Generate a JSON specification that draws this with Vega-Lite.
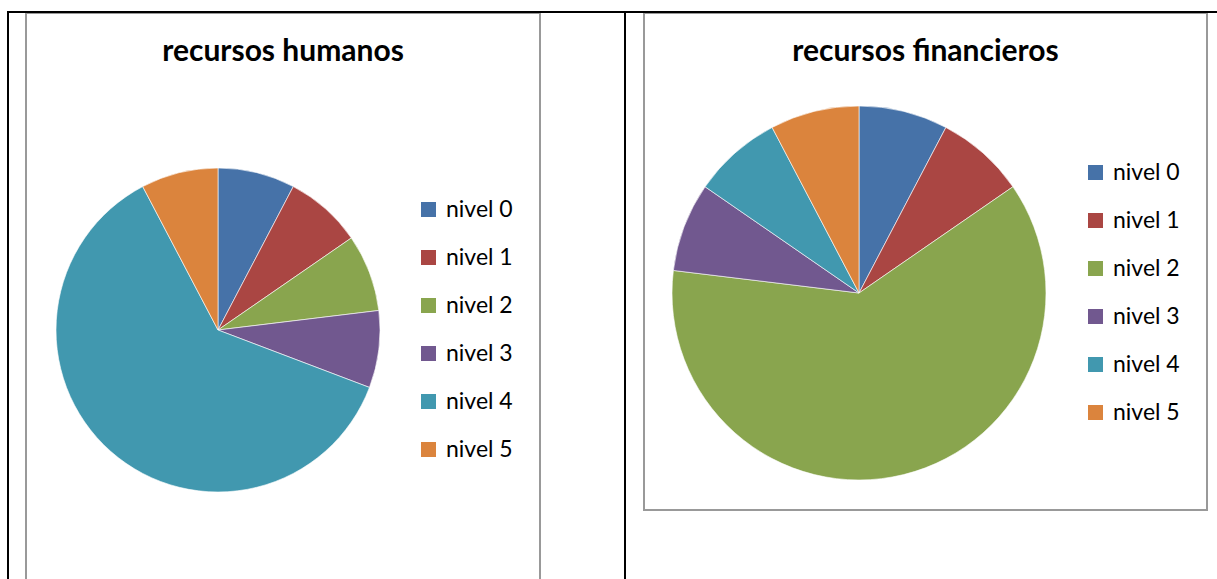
{
  "$schema": "https://vega.github.io/schema/vega-lite/v6.json",
  "background": "white",
  "padding": {"left": 6, "top": 10, "right": 0, "bottom": 0},
  "bounds": "flush",
  "spacing": 104,
  "datasets": {
    "humanos": [
      {"nivel": "nivel 0", "valor": 1},
      {"nivel": "nivel 1", "valor": 1},
      {"nivel": "nivel 2", "valor": 1},
      {"nivel": "nivel 3", "valor": 1},
      {"nivel": "nivel 4", "valor": 8},
      {"nivel": "nivel 5", "valor": 1}
    ],
    "financieros": [
      {"nivel": "nivel 0", "valor": 1},
      {"nivel": "nivel 1", "valor": 1},
      {"nivel": "nivel 2", "valor": 8},
      {"nivel": "nivel 3", "valor": 1},
      {"nivel": "nivel 4", "valor": 1},
      {"nivel": "nivel 5", "valor": 1}
    ],
    "marco": [{"celda": 1}]
  },
  "config": {
    "view": {"stroke": "#999999", "strokeWidth": 2},
    "font": "Lato"
  },
  "hconcat": [
    {
      "width": 514,
      "height": 580,
      "title": {"text": "recursos humanos", "frame": "group", "anchor": "middle", "offset": -71, "baseline": "middle", "fontSize": 30, "font": "Lato", "fontWeight": "bold", "color": "#000000"},
      "layer": [
        {
          "data": {"name": "marco"},
          "mark": {"type": "rect", "fill": null, "stroke": "#000000", "strokeWidth": 2, "clip": false},
          "encoding": {
            "x": {"value": -18}, "x2": {"value": 599},
            "y": {"value": -1}, "y2": {"value": 620}
          }
        },
        {
          "data": {"name": "humanos"},
          "mark": {"type": "arc", "outerRadius": 162, "stroke": "#ffffff", "strokeWidth": 1, "strokeOpacity": 0.6},
          "encoding": {
            "x": {"value": 192},
            "y": {"value": 317},
            "theta": {"field": "valor", "type": "quantitative", "stack": true},
            "order": {"field": "nivel", "sort": "ascending"},
            "color": {
              "field": "nivel", "type": "nominal",
              "scale": {"domain": ["nivel 0", "nivel 1", "nivel 2", "nivel 3", "nivel 4", "nivel 5"], "range": ["#4672A8", "#AA4643", "#89A54E", "#71588F", "#4198AF", "#DB843D"]},
              "legend": {"orient": "none", "legendX": 391, "legendY": 185, "title": null, "padding": 0, "symbolType": "square", "symbolSize": 225, "symbolStrokeWidth": 0, "labelFontSize": 23, "labelFont": "Lato", "labelColor": "#000000", "labelOffset": 6, "rowPadding": 24}
            }
          }
        }
      ]
    },
    {
      "width": 563,
      "height": 497,
      "title": {"text": "recursos financieros", "frame": "group", "anchor": "middle", "offset": -71, "baseline": "middle", "fontSize": 30, "font": "Lato", "fontWeight": "bold", "color": "#000000"},
      "layer": [
        {
          "data": {"name": "marco"},
          "mark": {"type": "rect", "fill": null, "stroke": "#000000", "strokeWidth": 2, "clip": false},
          "encoding": {
            "x": {"value": -19}, "x2": {"value": 620},
            "y": {"value": -1}, "y2": {"value": 620}
          }
        },
        {
          "data": {"name": "financieros"},
          "mark": {"type": "arc", "outerRadius": 187, "stroke": "#ffffff", "strokeWidth": 1, "strokeOpacity": 0.6},
          "encoding": {
            "x": {"value": 215},
            "y": {"value": 280},
            "theta": {"field": "valor", "type": "quantitative", "stack": true},
            "order": {"field": "nivel", "sort": "ascending"},
            "color": {
              "field": "nivel", "type": "nominal",
              "scale": {"domain": ["nivel 0", "nivel 1", "nivel 2", "nivel 3", "nivel 4", "nivel 5"], "range": ["#4672A8", "#AA4643", "#89A54E", "#71588F", "#4198AF", "#DB843D"]},
              "legend": {"orient": "none", "legendX": 440, "legendY": 148, "title": null, "padding": 0, "symbolType": "square", "symbolSize": 225, "symbolStrokeWidth": 0, "labelFontSize": 23, "labelFont": "Lato", "labelColor": "#000000", "labelOffset": 6, "rowPadding": 24}
            }
          }
        }
      ]
    }
  ],
  "resolve": {"scale": {"color": "independent"}, "legend": {"color": "independent"}}
}
